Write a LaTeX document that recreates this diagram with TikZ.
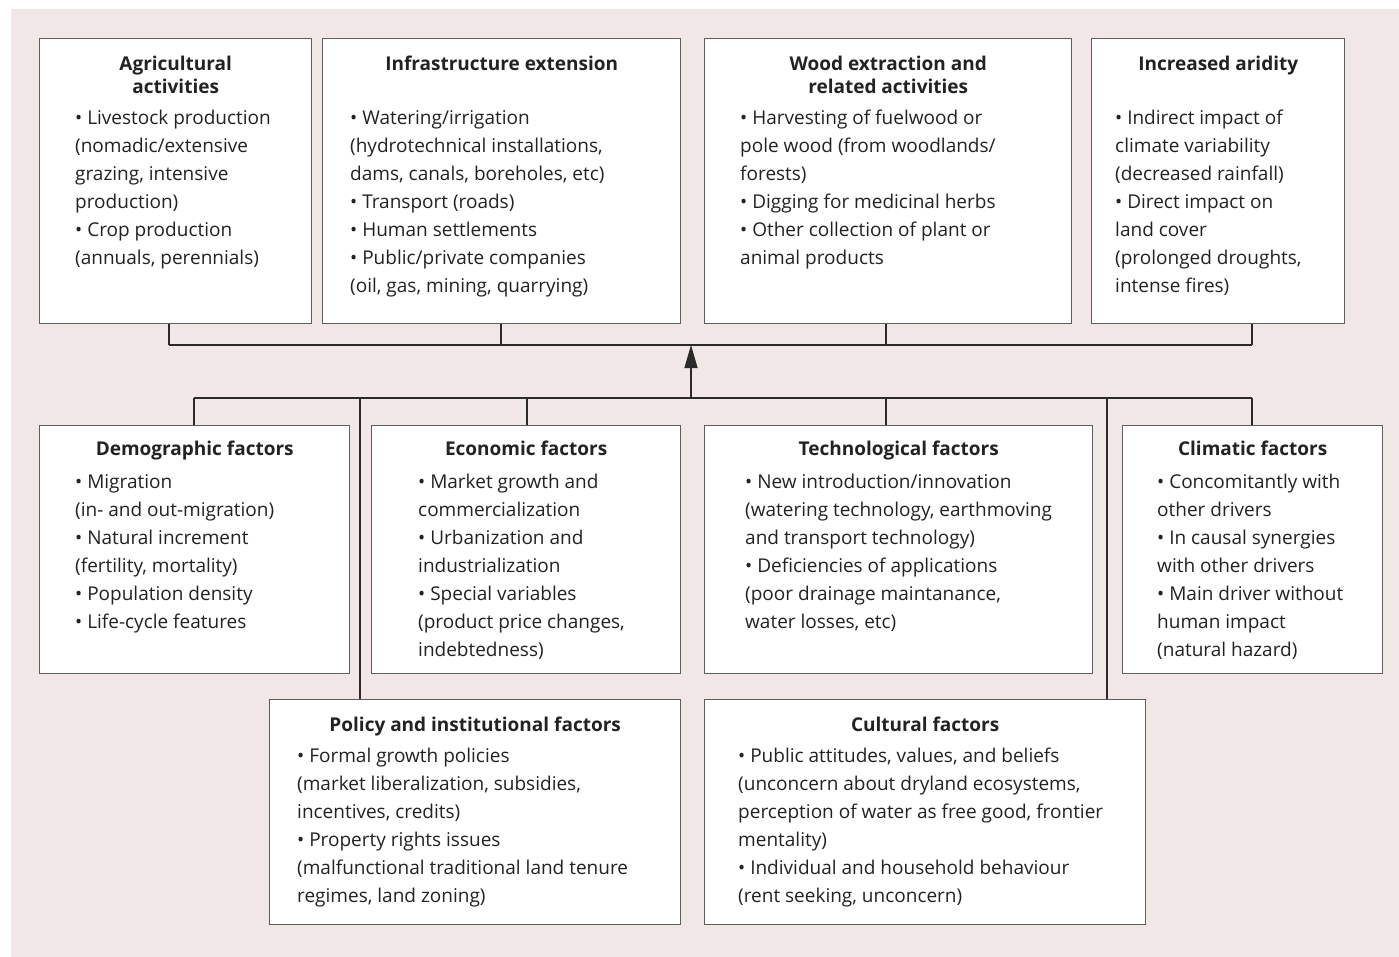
\documentclass[tikz,border=0pt]{standalone}
\usepackage{fontspec}
\setmainfont{Open Sans}
\usetikzlibrary{arrows.meta}
\definecolor{bgcol}{HTML}{F0E7E6}
\definecolor{boxline}{HTML}{5E5E5E}
\definecolor{conncol}{HTML}{2A2A2A}
\definecolor{txtcol}{HTML}{222222}
\begin{document}
\begin{tikzpicture}[x=1pt,y=-1pt,
 boxnode/.style={draw=boxline, line width=1.4pt, fill=white, inner sep=0pt, anchor=north west},
 head/.style={font=\bfseries\fontsize{19}{23}\selectfont, align=center, anchor=north, inner sep=0pt, text=txtcol},
 body/.style={font=\fontsize{19}{28.1}\selectfont, align=left, anchor=north west, inner sep=0pt, text=txtcol},
 connline/.style={draw=conncol, line width=1.3pt}]
\useasboundingbox (0,0) rectangle (1399,957);
\fill[bgcol] (11,9) rectangle (1399,957);

% boxes
\node[boxnode, minimum width=272pt, minimum height=285pt] (agr) at (39,38) {};
\node[boxnode, minimum width=358pt, minimum height=285pt] (inf) at (322,38) {};
\node[boxnode, minimum width=367pt, minimum height=285pt] (wood) at (704,38) {};
\node[boxnode, minimum width=253pt, minimum height=285pt] (arid) at (1091,38) {};
\node[boxnode, minimum width=310pt, minimum height=248pt] (demo) at (39,425) {};
\node[boxnode, minimum width=309pt, minimum height=248pt] (econ) at (371,425) {};
\node[boxnode, minimum width=388pt, minimum height=248pt] (tech) at (704,425) {};
\node[boxnode, minimum width=260pt, minimum height=248pt] (clim) at (1122,425) {};
\node[boxnode, minimum width=411pt, minimum height=225pt] (pol) at (269,699) {};
\node[boxnode, minimum width=441pt, minimum height=225pt] (cult) at (704,699) {};

% headings
\node[head] (agrh) at (agr.north |- 0,53.9) {\strut Agricultural\\activities};
\node[head] (infh) at (inf.north |- 0,53.9) {\strut Infrastructure extension};
\node[head] (woodh) at (wood.north |- 0,53.9) {\strut Wood extraction and\\related activities};
\node[head] (aridh) at (arid.north |- 0,53.9) {\strut Increased aridity};
\node[head] (demoh) at (demo.north |- 0,438.9) {\strut Demographic factors};
\node[head] (econh) at (econ.north |- 0,438.9) {\strut Economic factors};
\node[head] (techh) at (tech.north |- 0,438.9) {\strut Technological factors};
\node[head] (climh) at (clim.north |- 0,438.9) {\strut Climatic factors};
\node[head] (polh) at (pol.north |- 0,714.9) {\strut Policy and institutional factors};
\node[head] (culth) at (cult.north |- 0,714.9) {\strut Cultural factors};

% bodies
\node[body] (agrb) at (75,104.3) {\strut • Livestock production\\(nomadic/extensive\\grazing, intensive\\production)\\• Crop production\\(annuals, perennials)};
\node[body] (infb) at (350,104.3) {\strut • Watering/irrigation\\(hydrotechnical installations,\\dams, canals, boreholes, etc)\\• Transport (roads)\\• Human settlements\\• Public/private companies\\(oil, gas, mining, quarrying)};
\node[body] (woodb) at (740,104.3) {\strut • Harvesting of fuelwood or\\pole wood (from woodlands/\\forests)\\• Digging for medicinal herbs\\• Other collection of plant or\\animal products};
\node[body] (aridb) at (1115,104.3) {\strut • Indirect impact of\\climate variability\\(decreased rainfall)\\• Direct impact on\\land cover\\(prolonged droughts,\\intense fires)};
\node[body] (demob) at (75,468.3) {\strut • Migration\\(in- and out-migration)\\• Natural increment\\(fertility, mortality)\\• Population density\\• Life-cycle features};
\node[body] (econb) at (418,468.3) {\strut • Market growth and\\commercialization\\• Urbanization and\\industrialization\\• Special variables\\(product price changes,\\indebtedness)};
\node[body] (techb) at (745,468.3) {\strut • New introduction/innovation\\(watering technology, earthmoving\\and transport technology)\\• Deficiencies of applications\\(poor drainage maintanance,\\water losses, etc)};
\node[body] (climb) at (1157,468.3) {\strut • Concomitantly with\\other drivers\\• In causal synergies\\with other drivers\\• Main driver without\\human impact\\(natural hazard)};
\node[body] (polb) at (297,742.3) {\strut • Formal growth policies\\(market liberalization, subsidies,\\incentives, credits)\\• Property rights issues\\(malfunctional traditional land tenure\\regimes, land zoning)};
\node[body] (cultb) at (738,742.3) {\strut • Public attitudes, values, and beliefs\\(unconcern about dryland ecosystems,\\perception of water as free good, frontier\\mentality)\\• Individual and household behaviour\\(rent seeking, unconcern)};

% upper bus
\coordinate (ta) at (169,345);
\coordinate (tb) at (501,345);
\coordinate (tc) at (886,345);
\coordinate (td) at (1252,345);
\coordinate (tm) at (691,345);
\draw[connline] (ta |- agr.south) -- (ta);
\draw[connline] (tb |- inf.south) -- (tb);
\draw[connline] (tc |- wood.south) -- (tc);
\draw[connline] (td |- arid.south) -- (td);
\draw[connline] (ta) -- (td);

% lower bus
\coordinate (la) at (194,398);
\coordinate (lb) at (360,398);
\coordinate (lc) at (527,398);
\coordinate (lm) at (691,398);
\coordinate (ld) at (886,398);
\coordinate (le) at (1107,398);
\coordinate (lf) at (1252,398);
\draw[connline] (la) -- (lf);
\draw[connline] (la) -- (la |- demo.north);
\draw[connline] (lb) -- (lb |- pol.north);
\draw[connline] (lc) -- (lc |- econ.north);
\draw[connline] (ld) -- (ld |- tech.north);
\draw[connline] (le) -- (le |- cult.north);
\draw[connline] (lf) -- (lf |- clim.north);

% arrow
\draw[connline, -{Triangle[length=23pt,width=13pt]}] (lm) -- (tm);
\end{tikzpicture}
\end{document}
